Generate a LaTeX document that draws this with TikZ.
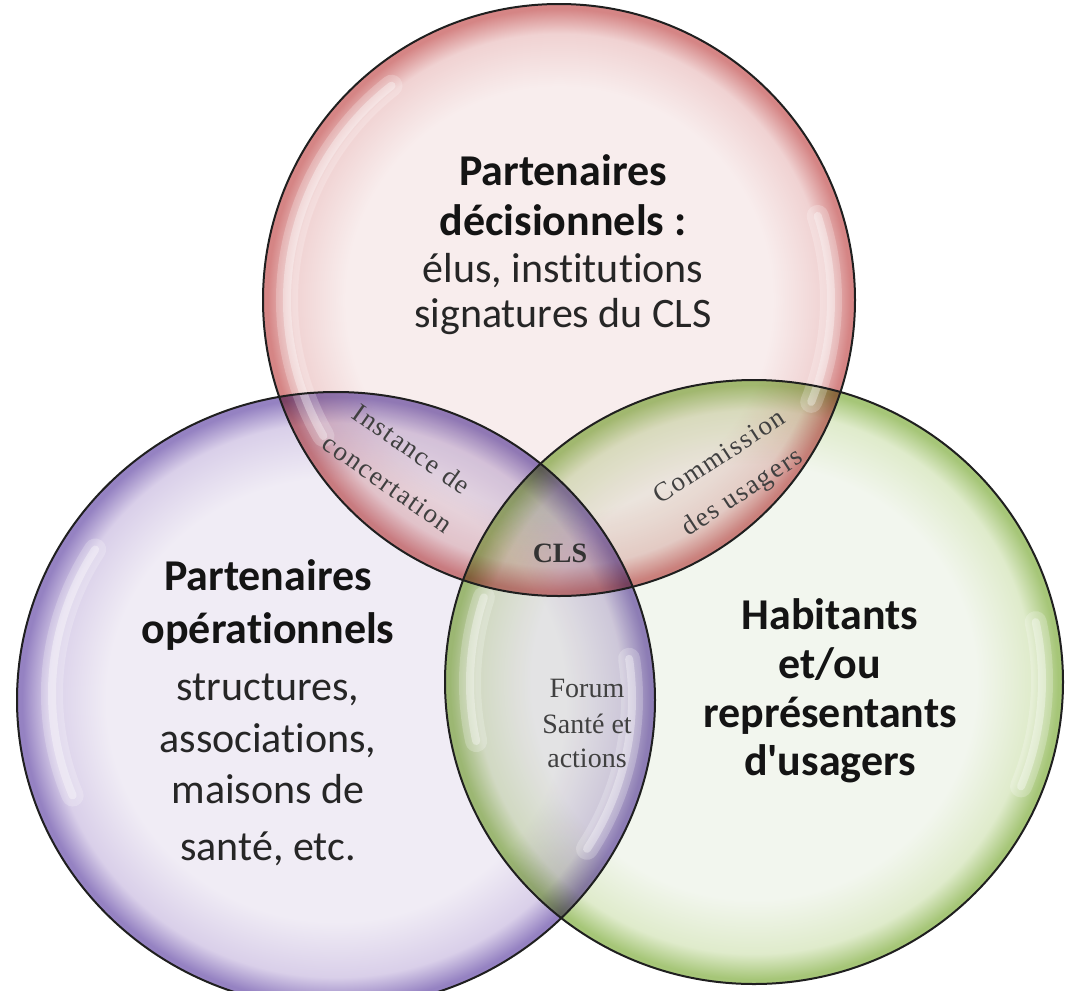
\documentclass[tikz,border=0pt]{standalone}
\usepackage{fontspec}
\setmainfont{Carlito}[Ligatures={NoCommon}]
\newfontfamily\lensfont{Liberation Serif}[LetterSpace=6]
\newfontfamily\forumfont{Liberation Serif}
\definecolor{redIn}{HTML}{F8EDED}
\definecolor{redMid}{HTML}{F0D2D2}
\definecolor{redEdge}{HTML}{D58585}
\definecolor{purIn}{HTML}{F0ECF5}
\definecolor{purMid}{HTML}{D9CFE9}
\definecolor{purEdge}{HTML}{9582C2}
\definecolor{grnIn}{HTML}{F2F6EE}
\definecolor{grnMid}{HTML}{DFEBCB}
\definecolor{grnEdge}{HTML}{A6C678}
\pgfdeclareradialshading{redglass}{\pgfpoint{0bp}{0bp}}{color(0bp)=(redIn); color(18bp)=(redIn); color(22.5bp)=(redMid); color(24.6bp)=(redEdge); color(25bp)=(redEdge); color(50bp)=(redEdge)}
\pgfdeclareradialshading{purglass}{\pgfpoint{0bp}{0bp}}{color(0bp)=(purIn); color(18bp)=(purIn); color(22.5bp)=(purMid); color(24.6bp)=(purEdge); color(25bp)=(purEdge); color(50bp)=(purEdge)}
\pgfdeclareradialshading{grnglass}{\pgfpoint{0bp}{0bp}}{color(0bp)=(grnIn); color(18bp)=(grnIn); color(22.5bp)=(grnMid); color(24.6bp)=(grnEdge); color(25bp)=(grnEdge); color(50bp)=(grnEdge)}
\tikzset{
  outline/.style={draw=black!88, line width=2},
  bigtitle/.style={font=\fontsize{44}{49}\selectfont\bfseries, text=black!92, inner sep=0, anchor=base},
  bigtext/.style={font=\fontsize{42}{47}\selectfont, text=black!85, inner sep=0, anchor=base},
  lens/.style={font=\lensfont\fontsize{27}{42}\selectfont, text=black!75, align=center, inner sep=0},
  forum/.style={font=\forumfont\fontsize{28}{35}\selectfont, text=black!75, inner sep=0, anchor=base},
  glosswide/.style={white, line cap=round, line width=22, opacity=0.22},
  glossthin/.style={white, line cap=round, line width=8, opacity=0.35},
}
\begin{document}
\begin{tikzpicture}[x=1pt,y=-1pt]
\useasboundingbox (0,0) rectangle (1066,991);
\fill[white] (0,0) rectangle (1066,991);
% fills
\begin{scope}[blend mode=multiply]
  \shade[shading=purglass] (336,700) ellipse [x radius=319, y radius=308];
  \shade[shading=grnglass] (754,682) ellipse [x radius=309, y radius=302];
  \shade[shading=redglass] (559,300) circle [radius=296];
\end{scope}
% glossy highlights
\foreach \s in {glosswide,glossthin}{
  \draw[\s] ([shift={(232:272)}]559,300) arc [start angle=232, end angle=150, radius=272];
  \draw[\s] ([shift={(-18:272)}]559,300) arc [start angle=-18, end angle=22, radius=272];
  \draw[\s] ([shift={(212:284)}]336,700) arc [start angle=212, end angle=158, x radius=284, y radius=272];
  \draw[\s] ([shift={(-8:296)}]336,700) arc [start angle=-8, end angle=32, x radius=296, y radius=284];
  \draw[\s] ([shift={(-12:288)}]754,682) arc [start angle=-12, end angle=22, x radius=288, y radius=282];
  \draw[\s] ([shift={(168:284)}]754,682) arc [start angle=168, end angle=198, x radius=284, y radius=278];
}
% outlines
\draw[outline] (336,700) ellipse [x radius=319, y radius=308];
\draw[outline] (754,682) ellipse [x radius=309, y radius=302];
\draw[outline] (559,300) circle [radius=296];
% main texts
\node[bigtitle] (r1) at (563,185) {Partenaires};
\node[bigtitle] (r2) at (563,235) {décisionnels :};
\node[bigtext] (r3) at (563,282) {élus, institutions};
\node[bigtext] (r4) at (563,327) {signatures du CLS};
\node[bigtitle] (p1) at (268,590) {Partenaires};
\node[bigtitle] (p2) at (268,643) {opérationnels};
\node[bigtext] (p3) at (268,700) {structures,};
\node[bigtext] (p4) at (268,752) {associations,};
\node[bigtext] (p5) at (268,803) {maisons de};
\node[bigtext] (p6) at (268,860) {santé, etc.};
\node[bigtitle] (g1) at (830,629) {Habitants};
\node[bigtitle] (g2) at (830,678) {et/ou};
\node[bigtitle] (g3) at (830,727) {représentants};
\node[bigtitle] (g4) at (830,775) {d\textquotesingle usagers};
% overlap labels
\node[lens, rotate=-35] (inst) at (400,466) {Instance de\\concertation};
\node[lens, rotate=33] (comm) at (732,476) {Commission\\des usagers};
\node[font=\forumfont\fontsize{28}{34}\selectfont\bfseries, text=black!80, inner sep=0, anchor=base] (cls) at (560,562) {CLS};
\node[forum] (f1) at (587,697) {Forum};
\node[forum] (f2) at (587,733) {Santé et};
\node[forum] (f3) at (587,767) {actions};
\end{tikzpicture}
\end{document}
